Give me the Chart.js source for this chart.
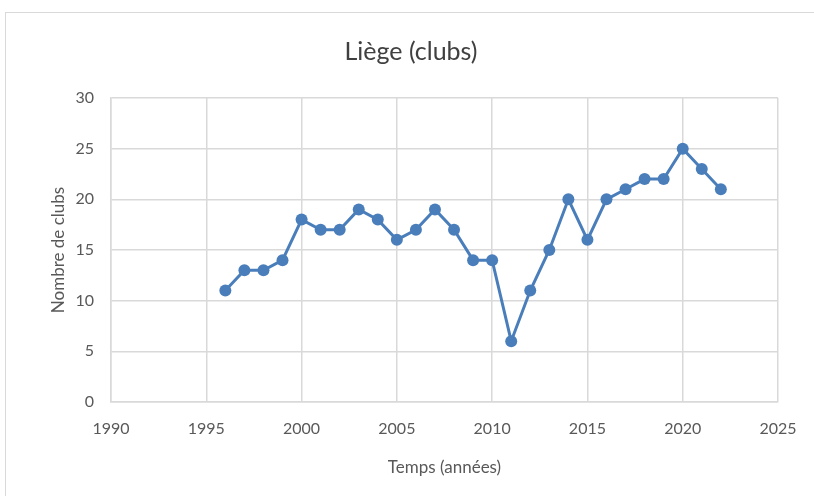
<!DOCTYPE html>
<html>
<head>
<meta charset="utf-8">
<script src="https://cdn.jsdelivr.net/npm/chart.js@4.4.0/dist/chart.umd.min.js"></script>
<style>
    html, body { margin: 0; padding: 0; background: #ffffff; }
    #wrap { position: relative; width: 814px; height: 496px; }
    #frame { position: absolute; left: 5px; top: 12px; width: 820px; height: 500px; border: 1px solid #d9d9d9; box-sizing: border-box; pointer-events: none; }
</style>
</head>
<body>
<div id="wrap">
    <canvas id="myChart" width="814" height="496"></canvas>
    <div id="frame"></div>
</div>
<script>
const years = [1996, 1997, 1998, 1999, 2000, 2001, 2002, 2003, 2004, 2005, 2006, 2007, 2008, 2009,
    2010, 2011, 2012, 2013, 2014, 2015, 2016, 2017, 2018, 2019, 2020, 2021, 2022];
const clubs = [11, 13, 13, 14, 18, 17, 17, 19, 18, 16, 17, 19, 17, 14,
    14, 6, 11, 15, 20, 16, 20, 21, 22, 22, 25, 23, 21];

const xMin = 1990, xMax = 2025, xStep = 5;
const yMin = 0, yMax = 30, yStep = 5;

const points = [];
for (let i = 0; i < years.length; i++) {
    points.push({x: years[i], y: clubs[i]}); // one point per year
}

const blue = 'rgb(74, 126, 187)';
const gridGray = '#d9d9d9';
const textGray = '#595959';
const fontFamily = 'Lato, "Noto Sans", sans-serif';

new Chart(document.getElementById('myChart'), {
    type: 'line',
    data: {
        datasets: [{
            label: 'Liège',
            data: points,
            borderColor: blue,
            backgroundColor: blue,
            borderWidth: 3,
            pointRadius: 6,
            pointBorderWidth: 0,
            pointBackgroundColor: blue,
            tension: 0
        }]
    },
    options: {
        responsive: false,
        animation: false,
        layout: {padding: {left: 44, right: 36, top: 0, bottom: 14}},
        plugins: {
            legend: {display: false},
            tooltip: {enabled: false},
            title: {
                display: true,
                text: 'Liège (clubs)',
                color: '#404040',
                font: {family: fontFamily, size: 25, weight: 'normal', lineHeight: 1.2},
                padding: {top: 37, bottom: 31}
            }
        },
        scales: {
            x: {
                type: 'linear',
                min: xMin,
                max: xMax,
                ticks: {stepSize: xStep, color: textGray, padding: 17,
                    font: {family: fontFamily, size: 16},
                    callback: v => String(v)},
                grid: {color: gridGray, lineWidth: 1.5, drawTicks: false},
                border: {color: gridGray, width: 1.5},
                title: {display: true, text: 'Temps (années)', color: textGray,
                    font: {family: fontFamily, size: 17}, padding: {top: 3}},
                afterFit: scale => { scale.height = 80; }
            },
            y: {
                min: yMin,
                max: yMax,
                ticks: {stepSize: yStep, color: textGray, padding: 17,
                    font: {family: fontFamily, size: 16}},
                grid: {color: gridGray, lineWidth: 1.5, drawTicks: false},
                border: {color: gridGray, width: 1.5},
                title: {display: true, text: 'Nombre de clubs', color: textGray,
                    font: {family: fontFamily, size: 17}, padding: {bottom: 4}},
                afterFit: scale => { scale.width = 67; }
            }
        }
    }
});
</script>
</body>
</html>
